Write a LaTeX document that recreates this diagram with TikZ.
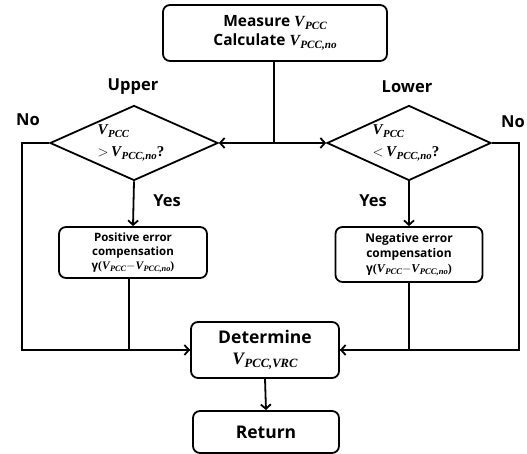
\documentclass[tikz,border=0pt]{standalone}
\usepackage{fontspec}
\setmainfont{Open Sans}
\newfontfamily\vfont{Liberation Serif}
\usepackage{graphicx}
\newcommand{\vsub}[1]{{\vfont\bfseries\itshape V\kern0.03em\raisebox{-0.35ex}{\scalebox{0.72}{#1}}}}
\usetikzlibrary{shapes.geometric,arrows.meta}

\begin{document}
\begin{tikzpicture}[x=1pt,y=1pt,line width=1.8pt,
    box/.style={draw,rounded corners=7pt,align=center,inner sep=0pt},
    cond/.style={draw,diamond,inner sep=0pt},
    lbl/.style={font=\fontsize{16.5}{19}\selectfont\bfseries},
    arr/.style={-{Straight Barb[length=4.5pt,width=10pt]}}]
    \useasboundingbox (0,0) rectangle (527,454);
    % boxes
    \node[box,minimum width=224pt,minimum height=56pt,font=\fontsize{15.5}{19}\selectfont\bfseries] (meas) at (275,421)
        {Measure \vsub{PCC}\\Calculate \vsub{PCC,no}};
    \node[cond,minimum width=168pt,minimum height=75pt] (upp) at (134,311) {};
    \node[cond,minimum width=164pt,minimum height=75pt] (low) at (409,311) {};
    \node[align=left,font=\fontsize{15}{22}\selectfont\bfseries] (upptxt) at (131,311) {\vsub{PCC}\\$>$\,\vsub{PCC,no}{\vfont ?}};
    \node[align=left,font=\fontsize{15}{22}\selectfont\bfseries] (lowtxt) at (406,311) {\vsub{PCC}\\$<$\,\vsub{PCC,no}{\vfont ?}};
    \node[box,minimum width=148pt,minimum height=51pt,font=\fontsize{11.5}{14}\selectfont\bfseries] (pos) at (133,201.5)
        {Positive error\\compensation\\γ{\vfont(}\vsub{PCC}$-$\vsub{PCC,no}{\vfont)}};
    \node[box,minimum width=147pt,minimum height=55pt,font=\fontsize{12}{15}\selectfont\bfseries] (neg) at (409,199.5)
        {Negative error\\compensation\\γ{\vfont(}\vsub{PCC}$-$\vsub{PCC,no}{\vfont)}};
    \node[box,minimum width=148pt,minimum height=56pt,font=\fontsize{17.5}{21}\selectfont\bfseries] (det) at (265,104)
        {Determine\\\vsub{PCC,VRC}};
    \node[box,minimum width=146pt,minimum height=42pt,font=\fontsize{17.5}{21}\selectfont\bfseries] (ret) at (266,22) {Return};
    % labels
    \node[lbl] (upl) at (133,367) {Upper};
    \node[lbl] (lol) at (407,367) {Lower};
    \node[lbl] (nol) at (28,334) {No};
    \node[lbl] (nor) at (513,332) {No};
    \node[lbl] (yesl) at (167,253) {Yes};
    \node[lbl] (yesr) at (373,253) {Yes};
    % connectors
    \coordinate (split) at (274,311);
    \coordinate (farl) at (22,311);
    \coordinate (farr) at (519,311);
    \draw (meas.south -| split) -- (split);
    \draw[arr] (split) -- (upp.east);
    \draw[arr] (split) -- (low.west);
    \draw[arr] (upp.south) -- (pos.north);
    \draw[arr] (low.south) -- (neg.north);
    \draw[arr] (upp.west) -- (farl) |- (det.west);
    \draw[arr] (low.east) -- (farr) |- (det.east);
    \draw ([xshift=-4pt]pos.south) |- (det.west);
    \draw (neg.south) |- (det.east);
    \draw[arr] (det.south) -- (ret.north);
\end{tikzpicture}
\end{document}
